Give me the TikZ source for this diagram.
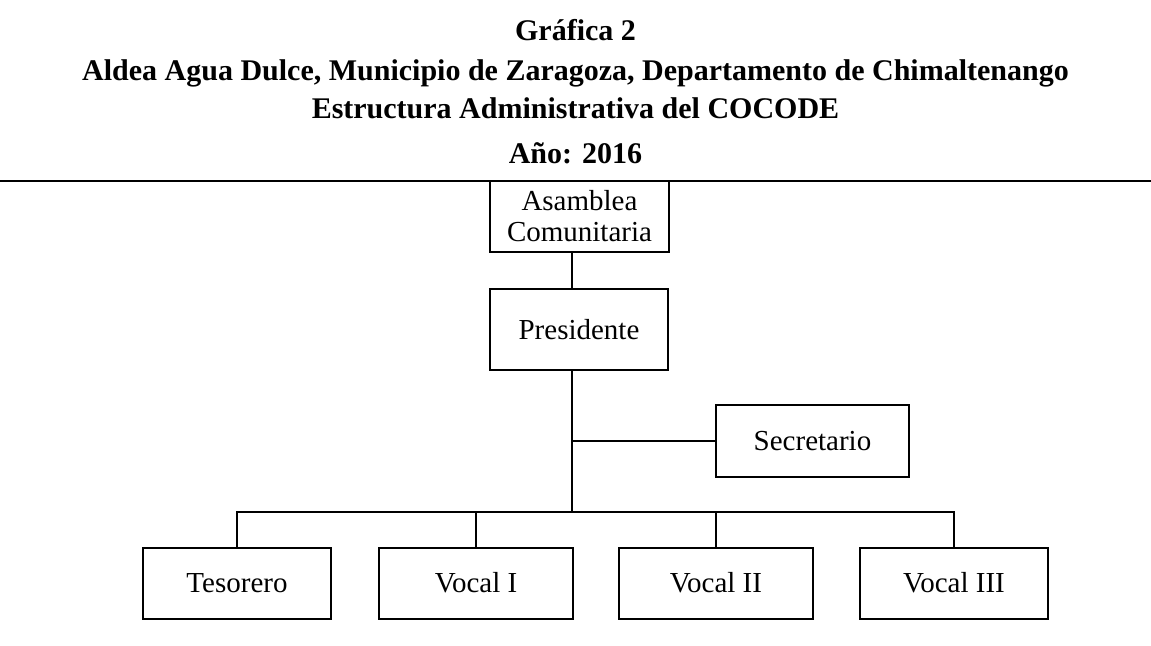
\documentclass[tikz,border=0pt]{standalone}
\usepackage{fontspec}
\setmainfont{Liberation Serif}
\begin{document}
\begin{tikzpicture}[x=0.5pt,y=-0.5pt,
  orgbox/.style={draw,line width=1pt,rectangle,inner sep=0pt,align=center,
    font=\fontsize{14.5}{15.5}\selectfont},
  titletext/.style={anchor=base,inner sep=0pt,font=\fontsize{15}{18}\selectfont\bfseries},
  conn/.style={line width=1pt}]
\useasboundingbox (0,0) rectangle (1151,645);
% title
\node[titletext] (t1) at (575.5,40) {Gráfica 2};
\node[titletext] (t2) at (575.5,80) {Aldea Agua Dulce, Municipio de Zaragoza, Departamento de Chimaltenango};
\node[titletext] (t3) at (575.5,118) {Estructura Administrativa del COCODE};
\node[titletext] (t4) at (575.5,163) {Año: 2016};
\coordinate (rl) at (0,181);
\coordinate (rr) at (1151,181);
\draw[conn] (rl) -- (rr);
% boxes
\node[orgbox,minimum width=89.5pt,minimum height=35.5pt] (asm) at (579.5,216.5) {Asamblea\\Comunitaria};
\node[orgbox,minimum width=89pt,minimum height=40.5pt] (pres) at (579,329.5) {Presidente};
\node[orgbox,minimum width=96.5pt,minimum height=36pt] (sec) at (812.5,441) {Secretario};
\node[orgbox,minimum width=94pt,minimum height=35.5pt] (tes) at (237,583) {Tesorero};
\node[orgbox,minimum width=97pt,minimum height=35.5pt] (v1) at (476,583) {Vocal I};
\node[orgbox,minimum width=97pt,minimum height=35.5pt] (v2) at (716,583) {Vocal II};
\node[orgbox,minimum width=94pt,minimum height=35.5pt] (v3) at (954,583) {Vocal III};
% connectors
\coordinate (j) at (572,512);
\draw[conn] (asm.south -| j) -- (pres.north -| j);
\draw[conn] (pres.south -| j) -- (j);
\draw[conn] (sec.west) -- (sec.west -| j);
\draw[conn] (tes.north) -- (tes.north |- j) -- (v3.north |- j) -- (v3.north);
\draw[conn] (v1.north) -- (v1.north |- j);
\draw[conn] (v2.north) -- (v2.north |- j);
\end{tikzpicture}
\end{document}
